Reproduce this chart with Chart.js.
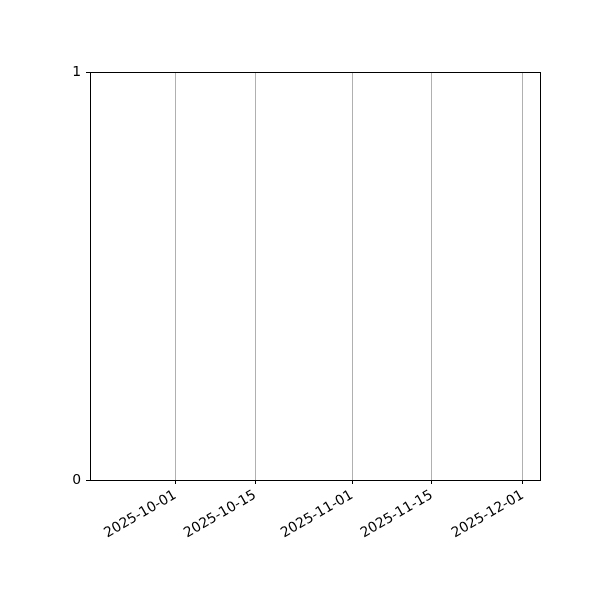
<!DOCTYPE html>
<html>
<head>
<meta charset="utf-8">
<script src="https://cdn.jsdelivr.net/npm/chart.js@4"></script>
<style>
  html, body { margin: 0; padding: 0; background: #fff; }
  #wrap { width: 600px; height: 600px; }
</style>
</head>
<body>
<div id="wrap"><canvas id="chart" width="600" height="600"></canvas></div>
<script>
// x values are days counted from 2025-10-01
const tickDays = [0, 14, 31, 45, 61];
const tickLabels = ["2025-10-01", "2025-10-15", "2025-11-01", "2025-11-15", "2025-12-01"];
const yTicks = [0, 1];
const xRange = [-15, 64];
const points = [];

const frame = {
    id: "frame",
    afterDraw(chart) {
        const a = chart.chartArea;
        const ctx = chart.ctx;
        ctx.save();
        ctx.strokeStyle = "#000";
        ctx.lineWidth = 1;
        ctx.strokeRect(a.left + 0.5, a.top + 0.5, a.right - a.left, a.bottom - a.top);
        ctx.restore();
    }
};

Chart.defaults.font.family = "DejaVu Sans";
Chart.defaults.font.size = 13.9;
Chart.defaults.color = "#000";

new Chart(document.getElementById("chart").getContext("2d"), {
    type: "scatter",
    data: { datasets: [{ data: points }] },
    plugins: [frame],
    options: {
        responsive: false,
        animation: false,
        layout: { padding: { left: 0, top: 72, right: 60, bottom: 0 } },
        plugins: { legend: { display: false }, tooltip: { enabled: false } },
        scales: {
            x: {
                type: "linear",
                min: xRange[0],
                max: xRange[1],
                afterBuildTicks: s => { s.ticks = tickDays.map(v => ({ value: v })); },
                afterFit: s => { s.height = 120; },
                ticks: {
                    autoSkip: false,
                    maxRotation: 30,
                    minRotation: 30,
                    padding: 3,
                    callback: v => tickLabels[tickDays.indexOf(v)]
                },
                grid: { color: "#b0b0b0", lineWidth: 1, tickColor: "#000", tickLength: 4 },
                border: { color: "#000" }
            },
            y: {
                min: 0,
                max: 1,
                afterBuildTicks: s => { s.ticks = yTicks.map(v => ({ value: v })); },
                afterFit: s => { s.width = 90; },
                ticks: { padding: 5 },
                grid: { color: "transparent", tickColor: "#000", tickLength: 4 },
                border: { color: "#000" }
            }
        }
    }
});
</script>
</body>
</html>
